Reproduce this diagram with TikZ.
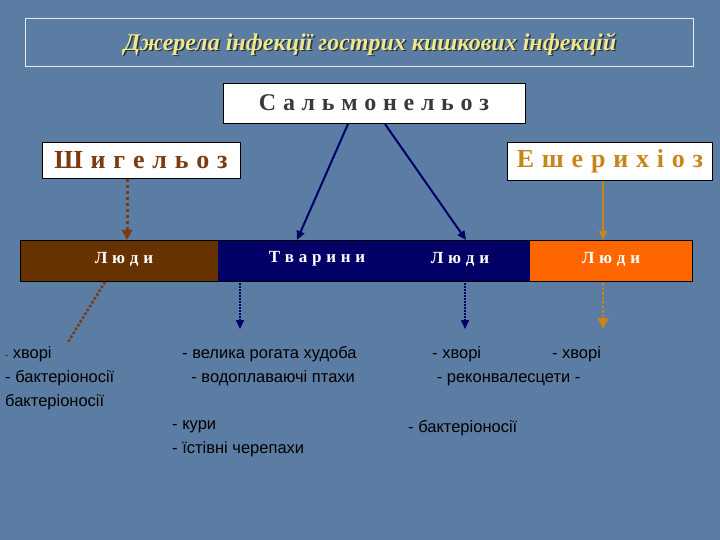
\documentclass[tikz,border=0pt]{standalone}
\usepackage{fontspec}
\setmainfont{Liberation Serif}
\newfontfamily\sans{Liberation Sans}
\usetikzlibrary{arrows.meta}
\definecolor{bg}{HTML}{5B7CA3}
\definecolor{ttl}{HTML}{F2E68A}
\definecolor{shg}{HTML}{7B3A10}
\definecolor{esh}{HTML}{C8861A}
\definecolor{brn}{HTML}{663300}
\definecolor{nav}{HTML}{000066}
\definecolor{org}{HTML}{FF6600}
\definecolor{sal}{HTML}{3A3A3A}
\newcommand\lsp{\kern0.28em}
\newcommand\lsq{\kern0.3em}
\begin{document}
\begin{tikzpicture}[x=1pt,y=-1pt,
 hdr/.style={draw=black,fill=white,inner sep=0},
 bartxt/.style={text=white,font=\bfseries\fontsize{17}{19}\selectfont},
 lst/.style={font=\sans\fontsize{16.5}{24}\selectfont,align=left,anchor=north west,inner sep=0},
 arr/.style={-{Triangle[length=9pt,width=8pt]},line width=2pt}]
\fill[bg] (0,0) rectangle (720,540);
\useasboundingbox (0,0) rectangle (720,540);
\draw[white!85!bg,line width=0.6pt] (25,18) rectangle (693,66);
\node[text=black!60!bg,font=\bfseries\itshape\fontsize{24}{26}\selectfont] at (371.5,45.5) {Джерела інфекції гострих кишкових інфекцій};
\node (title) [text=ttl,font=\bfseries\itshape\fontsize{24}{26}\selectfont] at (370,44) {Джерела інфекції гострих кишкових інфекцій};
\draw[hdr] (223,83) rectangle (525,123);
\node (sal) [text=sal,font=\bfseries\fontsize{24}{26}\selectfont] at (374,103) {С\lsp а\lsp л\lsp ь\lsp м\lsp о\lsp н\lsp е\lsp л\lsp ь\lsp о\lsp з};
\draw[hdr] (42,142) rectangle (240,178);
\node (shig) [text=shg,font=\bfseries\fontsize{26}{28}\selectfont] at (141,160) {Ш\lsq и\lsq г\lsq е\lsq л\lsq ь\lsq о\lsq з};
\draw[hdr] (507,142) rectangle (712,180);
\node (esch) [text=esh,font=\bfseries\fontsize{26}{28}\selectfont] at (610,161) {Е\lsq ш\lsq е\lsq р\lsq и\lsq х\lsq і\lsq о\lsq з};
\fill[brn] (20,240) rectangle (218,281);
\fill[nav] (218,240) rectangle (530,281);
\fill[org] (530,240) rectangle (692,281);
\draw[black,line width=0.8pt] (20,240) rectangle (692,281);
\node (l1) [bartxt] at (124,259) {Л\lsp ю\lsp д\lsp и};
\node (tv) [bartxt] at (317,259) {Т\lsp в\lsp а\lsp р\lsp и\lsp н\lsp и};
\node (l2) [bartxt] at (460,259) {Л\lsp ю\lsp д\lsp и};
\node (l3) [bartxt] at (611,259) {Л\lsp ю\lsp д\lsp и};
\coordinate (s1) at (127,179); \coordinate (t1) at (127,240);
\coordinate (s2) at (348,124); \coordinate (t2) at (297,240);
\coordinate (s3) at (385,124); \coordinate (t3) at (466,240);
\coordinate (s4) at (603,181); \coordinate (t4) at (603,240);
\draw[arr,shg,dashed,line width=3pt,-{Triangle[length=10pt,width=10pt]}] (s1) -- (t1);
\draw[arr,nav] (s2) -- (t2);
\draw[arr,nav] (s3) -- (t3);
\draw[arr,esh,line width=1.5pt] (s4) -- (t4);
\coordinate (b1) at (105,282); \coordinate (e1) at (68,342);
\draw[shg,dotted,line width=2.5pt] (b1) -- (e1);
\draw[nav,densely dotted,line width=2pt,-{Triangle[length=9pt,width=8pt]}] (240,283) -- (240,329);
\draw[nav,densely dotted,line width=2pt,-{Triangle[length=9pt,width=8pt]}] (465,283) -- (465,329);
\draw[esh,dotted,line width=2.5pt,-{Triangle[length=11pt,width=11pt]}] (603,283) -- (603,329);
\node (a) [lst] at (5,346) {{\small -} хворі\\- бактеріоносії\\бактеріоносії};
\node (b) [lst] at (182,346) {- велика рогата худоба\\\ \ - водоплаваючі птахи};
\node (c) [lst] at (432,346) {- хворі\hspace{4.3em}- хворі\\\ - реконвалесцети -};
\node (d) [lst] at (172,420) {- кури\\- їстівні черепахи};
\node (e) [lst] at (408,420) {- бактеріоносії};
\end{tikzpicture}
\end{document}
